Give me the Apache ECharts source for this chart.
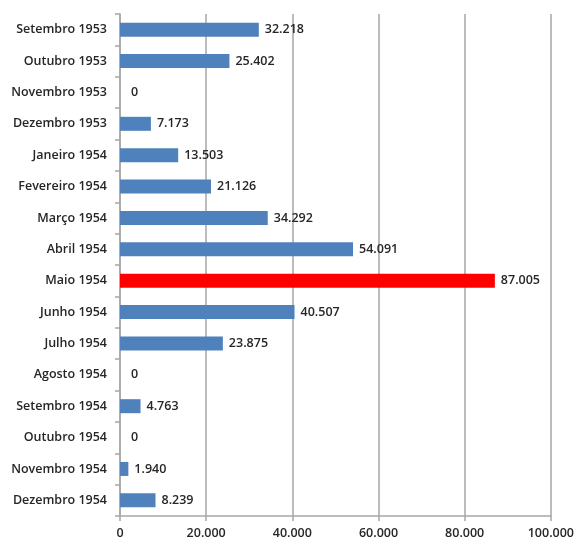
<!DOCTYPE html>
<html>
<head>
<meta charset="utf-8">
<script src="https://cdn.jsdelivr.net/npm/echarts@6/dist/echarts.min.js"></script>
<style>html,body{margin:0;padding:0;background:#fff;}#c{width:577px;height:541px;}</style>
</head>
<body>
<div id="c"></div>
<script>
const categories = ["Setembro 1953","Outubro 1953","Novembro 1953","Dezembro 1953","Janeiro 1954","Fevereiro 1954","Março 1954","Abril 1954","Maio 1954","Junho 1954","Julho 1954","Agosto 1954","Setembro 1954","Outubro 1954","Novembro 1954","Dezembro 1954"];
const values = [32218,25402,0,7173,13503,21126,34292,54091,87005,40507,23875,0,4763,0,1940,8239];
const highlight = "Maio 1954";
const xTicks = [0,20000,40000,60000,80000,100000];

function fmt(v){ return String(v).replace(/\B(?=(\d{3})+(?!\d))/g, "."); }

const chart = echarts.init(document.getElementById('c'), null, {renderer:'canvas'});
const txt = {color:'#262626', fontFamily:'Open Sans', fontSize:12.5, fontWeight:600};
chart.setOption({
  animation:false,
  grid:{left:120, right:24, top:14, bottom:25, containLabel:false},
  xAxis:{type:'value', min:xTicks[0], max:xTicks[xTicks.length-1], interval:20000,
    axisLine:{show:true, lineStyle:{color:'#a6a6a6', width:1.5}},
    axisTick:{show:true, length:5, lineStyle:{color:'#a6a6a6', width:1.5}},
    axisLabel:Object.assign({formatter:fmt, margin:11}, txt),
    splitLine:{show:true, lineStyle:{color:'#a6a6a6', width:1.5}}},
  yAxis:{type:'category', data:categories, inverse:true,
    axisLine:{show:true, lineStyle:{color:'#a6a6a6', width:1.5}},
    axisTick:{show:true, length:5, lineStyle:{color:'#a6a6a6', width:1.5}},
    axisLabel:Object.assign({margin:13}, txt)},
  series:[{type:'bar', barWidth:14,
    data:values.map((v,i)=>({value:v, itemStyle:{color: categories[i]===highlight ? '#ff0000' : '#4f81bd'},
      label: v===0 ? {distance:11} : undefined})),
    label:Object.assign({show:true, position:'right', distance:6, formatter:p=>fmt(p.value)}, txt)
  }]
});
</script>
</body>
</html>
